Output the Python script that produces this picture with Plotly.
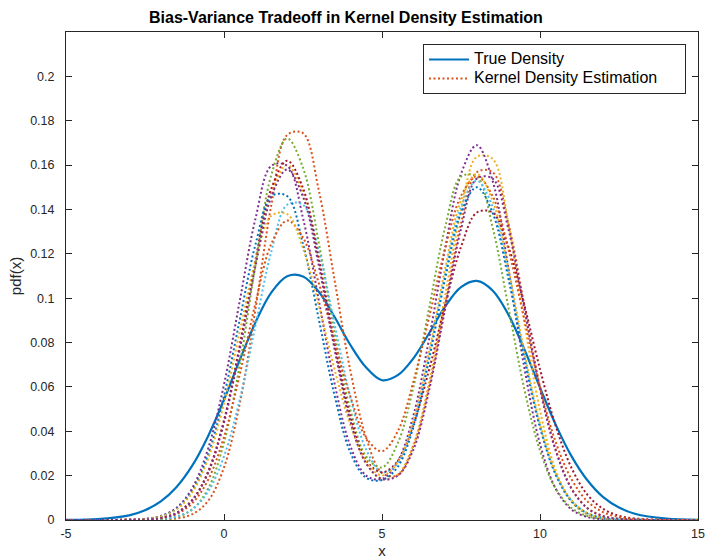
import plotly.graph_objects as go

# ---------------- data ----------------
x_vals = [-5, -4, -3, -2.5, -2, -1.5, -1, -0.5, 0, 0.5, 1, 1.5, 2, 2.5, 3, 3.5, 4, 4.5,
          5, 5.5, 6, 6.5, 7, 7.5, 8, 8.5, 9, 9.5, 10, 10.5, 11, 11.5, 12, 12.5, 13, 14, 15]

true_density = [0.0001, 0.0004, 0.0021, 0.0044, 0.0084, 0.0149, 0.0246, 0.0379, 0.0542,
                0.0722, 0.0892, 0.1026, 0.1099, 0.1098, 0.1029, 0.0915, 0.0789, 0.0687,
                0.0630, 0.0653, 0.0730, 0.0844, 0.0963, 0.1050, 0.1078, 0.1035, 0.0926,
                0.0771, 0.0597, 0.0429, 0.0287, 0.0179, 0.0103, 0.0056, 0.0028, 0.0006, 0.0001]

kde_1 = [0, 0, 0, 0, 0.0001, 0.0007, 0.0026, 0.0087, 0.0237, 0.0525, 0.0954, 0.1422, 0.1736,
         0.1744, 0.1486, 0.1081, 0.0673, 0.0370, 0.0212, 0.0203, 0.0337, 0.0606, 0.0972,
         0.1336, 0.1568, 0.1568, 0.1336, 0.0971, 0.0600, 0.0317, 0.0142, 0.0054, 0.0018,
         0.0005, 0.0001, 0, 0]
kde_2 = [0, 0, 0.0001, 0.0002, 0.0010, 0.0032, 0.0090, 0.0216, 0.0445, 0.0779, 0.1162,
         0.1477, 0.1600, 0.1477, 0.1162, 0.0780, 0.0450, 0.0255, 0.0185, 0.0205, 0.0341,
         0.0628, 0.1015, 0.1394, 0.1637, 0.1628, 0.1334, 0.0895, 0.0493, 0.0222, 0.0082,
         0.0025, 0.0006, 0.0001, 0, 0, 0]
kde_3 = [0, 0, 0.0001, 0.0005, 0.0018, 0.0055, 0.0145, 0.0323, 0.0611, 0.0989, 0.1361,
         0.1597, 0.1597, 0.1361, 0.0990, 0.0614, 0.0333, 0.0200, 0.0185, 0.0265, 0.0475,
         0.0824, 0.1227, 0.1560, 0.1690, 0.1529, 0.1134, 0.0690, 0.0343, 0.0140, 0.0047,
         0.0013, 0.0003, 0.0001, 0, 0, 0]
kde_4 = [0, 0, 0, 0.0001, 0.0003, 0.0013, 0.0048, 0.0142, 0.0349, 0.0702, 0.1154, 0.1557,
         0.1720, 0.1588, 0.1250, 0.0843, 0.0496, 0.0286, 0.0237, 0.0347, 0.0603, 0.0962,
         0.1320, 0.1548, 0.1548, 0.1319, 0.0959, 0.0593, 0.0313, 0.0141, 0.0054, 0.0018,
         0.0005, 0.0001, 0, 0, 0]
kde_5 = [0, 0, 0, 0.0001, 0.0005, 0.0016, 0.0049, 0.0129, 0.0287, 0.0544, 0.0880, 0.1211,
         0.1421, 0.1421, 0.1212, 0.0882, 0.0553, 0.0317, 0.0215, 0.0256, 0.0441, 0.0750,
         0.1112, 0.1412, 0.1530, 0.1412, 0.1111, 0.0745, 0.0425, 0.0207, 0.0086, 0.0030,
         0.0009, 0.0002, 0.0001, 0, 0]
kde_6 = [0, 0, 0.0001, 0.0003, 0.0010, 0.0032, 0.0091, 0.0219, 0.0450, 0.0789, 0.1176,
         0.1495, 0.1620, 0.1496, 0.1178, 0.0796, 0.0469, 0.0269, 0.0215, 0.0266, 0.0432,
         0.0683, 0.0971, 0.1231, 0.1386, 0.1386, 0.1231, 0.0971, 0.0680, 0.0422, 0.0234,
         0.0114, 0.0050, 0.0019, 0.0007, 0.0001, 0]
kde_7 = [0, 0, 0.0001, 0.0005, 0.0017, 0.0051, 0.0133, 0.0295, 0.0559, 0.0904, 0.1244,
         0.1460, 0.1460, 0.1244, 0.0905, 0.0561, 0.0304, 0.0190, 0.0180, 0.0240, 0.0422,
         0.0731, 0.1089, 0.1385, 0.1500, 0.1385, 0.1089, 0.0730, 0.0417, 0.0203, 0.0084,
         0.0030, 0.0009, 0.0002, 0.0001, 0, 0]
kde_8 = [0, 0, 0.0001, 0.0002, 0.0008, 0.0027, 0.0076, 0.0182, 0.0375, 0.0657, 0.0980,
         0.1246, 0.1350, 0.1273, 0.1068, 0.0804, 0.0556, 0.0370, 0.0310, 0.0400, 0.0628,
         0.0919, 0.1225, 0.1461, 0.1550, 0.1460, 0.1221, 0.0908, 0.0598, 0.0350, 0.0183,
         0.0084, 0.0035, 0.0013, 0.0004, 0, 0]
kde_9 = [0, 0, 0.0001, 0.0004, 0.0016, 0.0048, 0.0125, 0.0277, 0.0525, 0.0850, 0.1169,
         0.1372, 0.1379, 0.1225, 0.0967, 0.0678, 0.0429, 0.0263, 0.0201, 0.0260, 0.0453,
         0.0767, 0.1135, 0.1441, 0.1560, 0.1440, 0.1133, 0.0760, 0.0434, 0.0211, 0.0088,
         0.0031, 0.0009, 0.0002, 0.0001, 0, 0]
kde_10 = [0, 0, 0.0001, 0.0002, 0.0009, 0.0031, 0.0089, 0.0213, 0.0439, 0.0769, 0.1147,
          0.1458, 0.1580, 0.1458, 0.1147, 0.0770, 0.0444, 0.0255, 0.0185, 0.0200, 0.0320,
          0.0591, 0.0953, 0.1311, 0.1539, 0.1539, 0.1311, 0.0953, 0.0589, 0.0311, 0.0140,
          0.0053, 0.0017, 0.0005, 0.0001, 0, 0]

kde_series = [kde_1, kde_2, kde_3, kde_4, kde_5, kde_6, kde_7, kde_8, kde_9, kde_10]

x_ticks = [-5, 0, 5, 10, 15]
y_ticks = [0, 0.02, 0.04, 0.06, 0.08, 0.1, 0.12, 0.14, 0.16, 0.18, 0.2]
y_tick_labels = ["0", "0.02", "0.04", "0.06", "0.08", "0.1", "0.12", "0.14", "0.16", "0.18", "0.2"]

legend_true = "True Density"
legend_kde = "Kernel Density Estimation"

# MATLAB default colour order
true_color = "#0072BD"
kde_colors = ["#D95319", "#EDB120", "#7E2F8E", "#77AC30", "#4DBEEE", "#A2142F",
              "#0072BD", "#D95319", "#EDB120", "#7E2F8E"]

for s in kde_series:
    assert len(s) == len(x_vals)
assert len(true_density) == len(x_vals)


def legend_label(text):
    # larger glyphs than the legend row height, plus a little trailing room
    return '<span style="font-size:16px">' + text + "\u00a0" * 5 + "</span>"


# ---------------- figure ----------------
fig = go.Figure()

fig.add_trace(go.Scatter(
    x=x_vals, y=true_density, mode="lines", name=legend_label(legend_true),
    line=dict(color=true_color, width=2.2, shape="spline", smoothing=1.0),
    showlegend=True))

for i, (ys, col) in enumerate(zip(kde_series, kde_colors)):
    fig.add_trace(go.Scatter(
        x=x_vals, y=ys, mode="lines", name=legend_label(legend_kde),
        line=dict(color=col, width=2, dash="2px,2.5px", shape="spline", smoothing=1.0),
        showlegend=(i == 0)))

axis_col = "#262626"
font_family = "Liberation Sans, Arial, Helvetica, sans-serif"

fig.update_layout(
    width=706, height=559,
    margin=dict(l=66, r=8, t=32, b=39),
    paper_bgcolor="white", plot_bgcolor="white",
    font=dict(family=font_family, color=axis_col, size=12.5),
    title=dict(text="<b>Bias-Variance Tradeoff in Kernel Density Estimation</b>",
               x=0.49, xref="container", xanchor="center",
               y=1 - 17 / 559, yref="container", yanchor="middle",
               font=dict(size=16, color="#000000", family=font_family)),
    legend=dict(x=(686 - 66) / (706 - 66 - 8), y=0.9754, xanchor="right", yanchor="top",
                xref="paper", yref="paper",
                bgcolor="white", bordercolor=axis_col, borderwidth=1,
                font=dict(size=12, color="#000000", family=font_family),
                tracegroupgap=0, itemwidth=40),
    showlegend=True,
)

fig.update_xaxes(
    range=[-5, 15], tickvals=x_ticks, ticktext=[str(v) for v in x_ticks],
    showgrid=False, zeroline=False, automargin=False,
    showline=True, linecolor=axis_col, linewidth=1, mirror="allticks",
    ticks="inside", ticklen=6, tickwidth=1, tickcolor=axis_col,
    tickfont=dict(size=12.5, color=axis_col), ticklabelstandoff=2,
    title=dict(text="x", font=dict(size=15, color=axis_col), standoff=12),
)
fig.update_yaxes(
    range=[0, 0.22], tickvals=y_ticks, ticktext=y_tick_labels,
    showgrid=False, zeroline=False, automargin=False,
    showline=True, linecolor=axis_col, linewidth=1, mirror="allticks",
    ticks="inside", ticklen=6, tickwidth=1, tickcolor=axis_col,
    tickfont=dict(size=12.5, color=axis_col), ticklabelstandoff=8,
    title=dict(text="pdf(x)", font=dict(size=15, color=axis_col), standoff=4),
)

fig.write_html("out.html")
